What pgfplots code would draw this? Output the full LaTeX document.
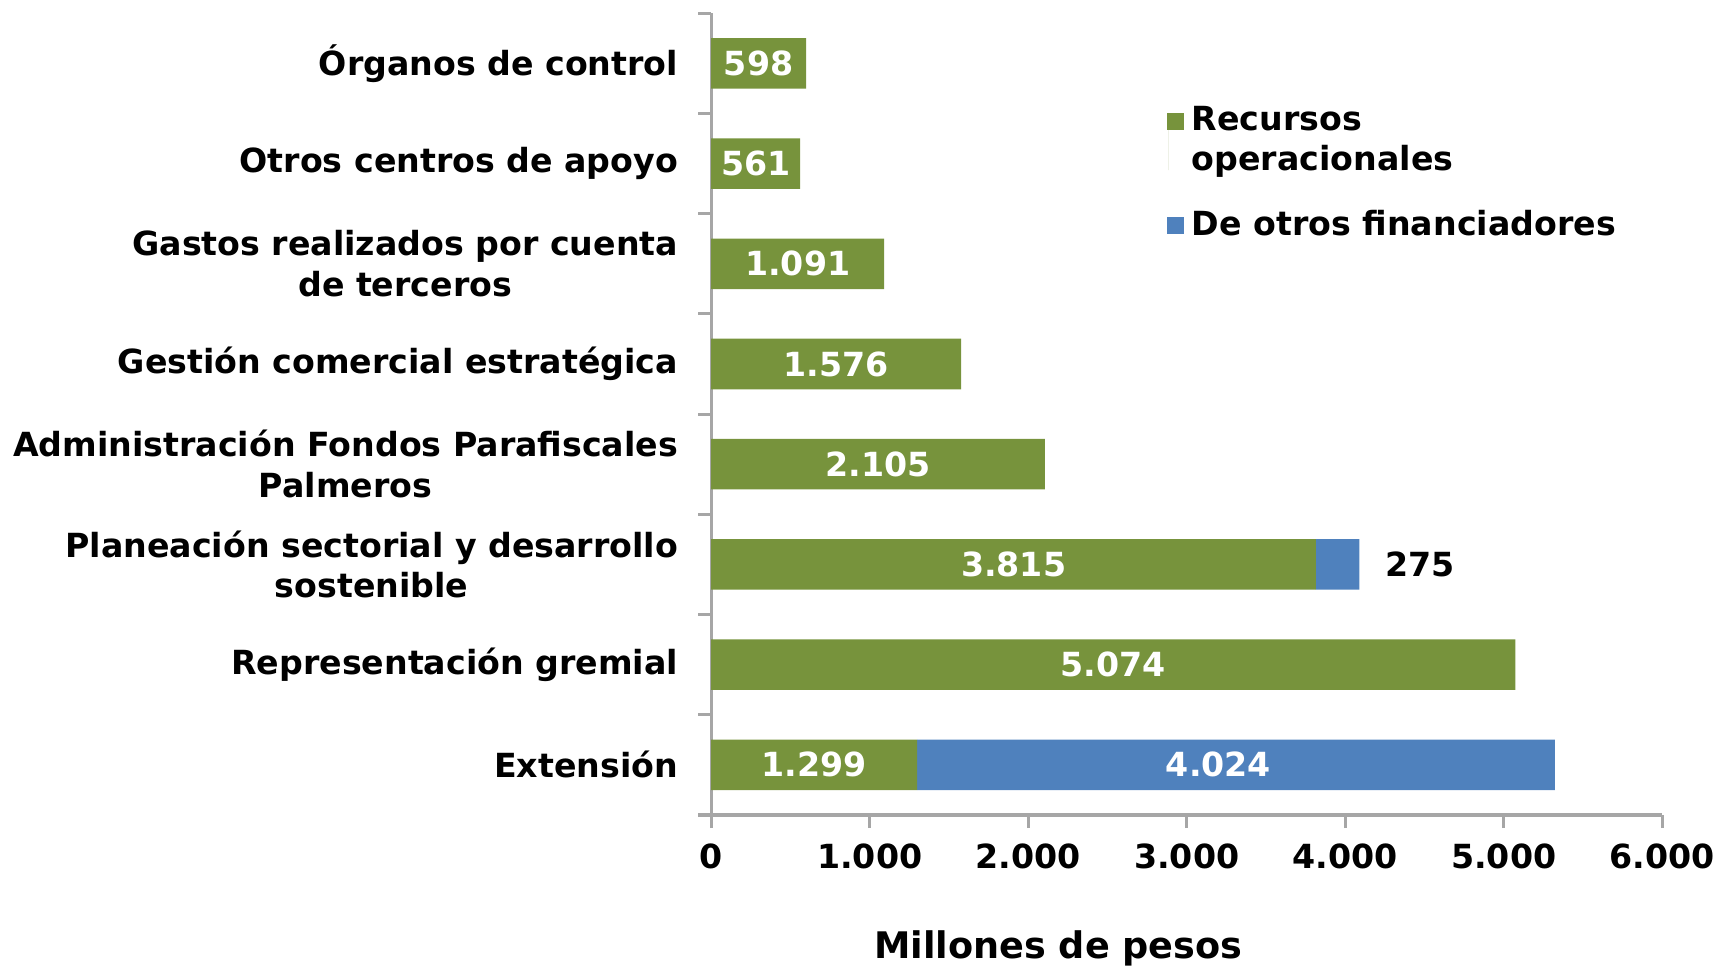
\documentclass[border=0pt]{standalone}
\usepackage{pgfplots}
\pgfplotsset{compat=1.18}
\usepackage{fontspec}
\setmainfont{DejaVu Sans}
\definecolor{verde}{HTML}{77933C}
\definecolor{azul}{HTML}{4F81BD}
\definecolor{eje}{HTML}{A6A6A6}
\newcommand\lbl{\fontsize{8.35}{10.2}\selectfont\bfseries}

\begin{document}
\begin{tikzpicture}
\begin{axis}[
  scale only axis, width=239pt, height=201.5pt,
  xbar stacked, bar width=12.7pt,
  xmin=0, xmax=6000, ymin=0.5, ymax=8.5,
  axis x line*=bottom, axis y line*=left,
  axis line style={eje, line width=0.8pt, -},
  xtick={0,1000,...,6000},
  xticklabels={0,1.000,2.000,3.000,4.000,5.000,6.000},
  ytick={0.5,1.5,...,8.5}, yticklabels={},
  extra y ticks={1,2,3,4,5,6,7,8},
  extra y tick labels={Extensión, Representación gremial, {Planeación sectorial y desarrollo\\sostenible}, {Administración Fondos Parafiscales\\Palmeros}, Gestión comercial estratégica, {Gastos realizados por cuenta\\de terceros}, Otros centros de apoyo, Órganos de control},
  extra y tick style={tick style={draw=none}},
  tick align=outside, major tick length=3.3pt,
  tick style={eje, line width=0.8pt},
  tick label style={font=\lbl, align=center},
  yticklabel style={xshift=-1.5pt},
  xticklabel style={yshift=-0.5pt},
  xlabel={Millones de pesos},
  xlabel style={font=\fontsize{9.2}{11}\selectfont\bfseries, at={(ticklabel cs:0.365)}, anchor=north, inner sep=0pt, yshift=-11.9pt},
  legend style={at={(0.466,0.905)}, anchor=north west, draw=none, fill=none, font=\lbl,
    cells={align=left, anchor=west}, row sep=4.3pt},
  legend image code/.code={\fill[#1] (-0.3pt,-2.1pt) rectangle (3.9pt,2.1pt);},
]
\addplot[fill=verde, draw=none,
  legend image code/.code={\fill[verde] (-0.3pt,3.0pt) rectangle (3.9pt,7.2pt); \path (0,-7.2pt) -- (0,7.2pt);}]
  coordinates {(1299,1) (5074,2) (3815,3) (2105,4) (1576,5) (1091,6) (561,7) (598,8)};
\addlegendentry{Recursos\\operacionales}
\addplot[fill=azul, draw=none] coordinates {(4024,1) (0,2) (275,3) (0,4) (0,5) (0,6) (0,7) (0,8)};
\addlegendentry{De otros financiadores}
\end{axis}
\begin{axis}[
  scale only axis, width=239pt, height=201.5pt,
  xmin=0, xmax=6000, ymin=0.5, ymax=8.5, hide axis,
]
\addplot[draw=none, mark=none, nodes near coords, point meta=explicit symbolic,
  every node near coord/.append style={anchor=center, text=white, font=\lbl}]
  coordinates {(299,8) [598] (280.5,7) [561] (545.5,6) [1.091] (788,5) [1.576] (1052.5,4) [2.105] (1907.5,3) [3.815] (2537,2) [5.074] (649.5,1) [1.299] (3200,1) [4.024]};
\addplot[draw=none, mark=none, nodes near coords, point meta=explicit symbolic,
  every node near coord/.append style={anchor=west, text=black, font=\lbl, xshift=3pt}]
  coordinates {(4090,3) [275]};
\end{axis}
\end{tikzpicture}
\end{document}
